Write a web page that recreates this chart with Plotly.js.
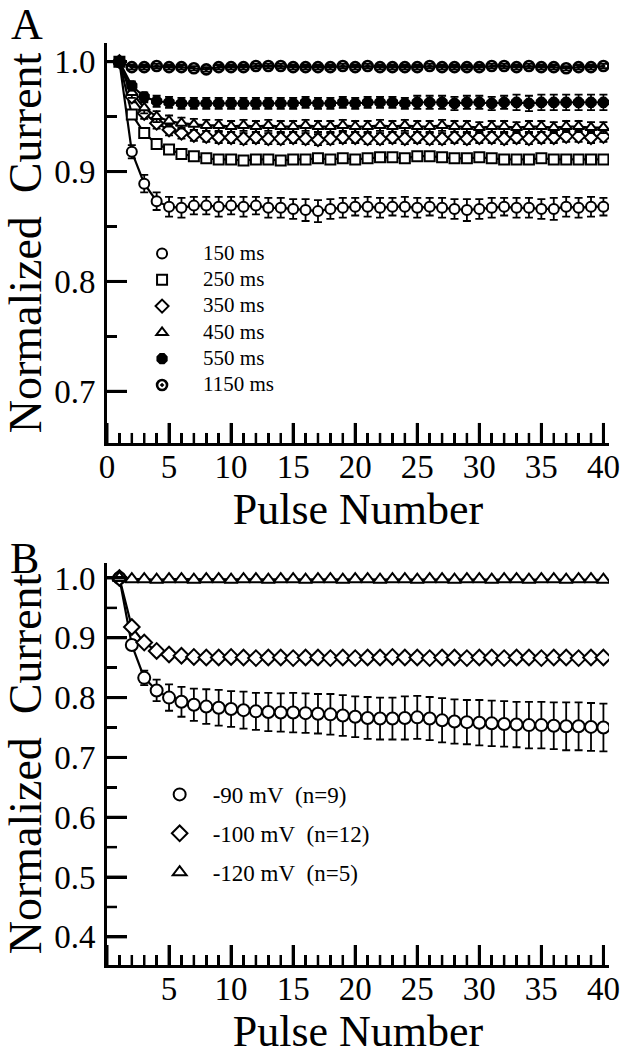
<!DOCTYPE html>
<html>
<head>
<meta charset="utf-8">
<script src="https://cdn.plot.ly/plotly-3.0.1.min.js"></script>
<style>html,body{margin:0;padding:0;background:#fff;}</style>
</head>
<body>
<div id="chart" style="width:620px;height:1058px;"></div>
<script>
// ---------- Data ----------
const pulses = Array.from({length: 40}, (_, i) => i + 1);

// Panel A: interval series
const a150 = [1.000,0.918,0.889,0.873,0.868,0.867,0.869,0.869,0.868,0.869,0.868,0.869,0.867,0.867,0.866,0.865,0.864,0.866,0.867,0.868,0.868,0.867,0.868,0.868,0.867,0.868,0.867,0.866,0.865,0.866,0.867,0.868,0.867,0.867,0.866,0.866,0.868,0.867,0.868,0.868];
const a150Err = [0.002,0.006,0.008,0.008,0.009,0.009,0.008,0.008,0.009,0.008,0.009,0.008,0.009,0.009,0.009,0.010,0.010,0.009,0.009,0.008,0.009,0.009,0.008,0.009,0.009,0.008,0.009,0.009,0.010,0.009,0.009,0.008,0.009,0.009,0.009,0.010,0.009,0.009,0.009,0.008];
const a250 = [1.000,0.952,0.935,0.925,0.920,0.916,0.914,0.912,0.911,0.911,0.910,0.911,0.911,0.910,0.911,0.911,0.912,0.911,0.912,0.911,0.912,0.913,0.913,0.912,0.914,0.914,0.913,0.912,0.912,0.913,0.912,0.911,0.911,0.911,0.912,0.911,0.911,0.911,0.911,0.911];
const a250Err = [0.002,0.004,0.004,0.004,0.004,0.004,0.004,0.004,0.004,0.004,0.004,0.004,0.004,0.004,0.004,0.004,0.004,0.004,0.004,0.004,0.004,0.004,0.004,0.004,0.004,0.004,0.004,0.004,0.004,0.004,0.004,0.004,0.004,0.004,0.004,0.004,0.004,0.004,0.004,0.004];
const a350 = [1.000,0.968,0.953,0.944,0.938,0.935,0.933,0.932,0.931,0.931,0.930,0.931,0.930,0.930,0.931,0.930,0.929,0.930,0.931,0.931,0.930,0.930,0.931,0.930,0.931,0.930,0.930,0.931,0.930,0.931,0.931,0.930,0.931,0.930,0.931,0.931,0.932,0.932,0.931,0.932];
const a350Err = [0.002,0.005,0.005,0.005,0.005,0.005,0.005,0.005,0.005,0.005,0.005,0.005,0.005,0.005,0.005,0.005,0.005,0.005,0.005,0.005,0.005,0.005,0.005,0.005,0.005,0.005,0.005,0.005,0.005,0.005,0.005,0.005,0.005,0.005,0.005,0.005,0.005,0.005,0.005,0.005];
const a450 = [1.000,0.972,0.958,0.950,0.946,0.944,0.943,0.942,0.942,0.941,0.942,0.941,0.942,0.941,0.941,0.942,0.941,0.941,0.942,0.941,0.941,0.942,0.941,0.942,0.941,0.941,0.942,0.941,0.941,0.940,0.941,0.941,0.940,0.941,0.941,0.940,0.941,0.941,0.940,0.940];
const a450Err = [0.002,0.005,0.005,0.005,0.005,0.005,0.005,0.005,0.005,0.005,0.005,0.005,0.005,0.005,0.005,0.005,0.005,0.005,0.005,0.005,0.005,0.005,0.005,0.005,0.005,0.005,0.005,0.005,0.005,0.005,0.005,0.005,0.005,0.005,0.005,0.005,0.005,0.005,0.005,0.005];
const a550 = [1.000,0.978,0.968,0.964,0.963,0.962,0.962,0.962,0.962,0.962,0.962,0.962,0.962,0.962,0.962,0.963,0.962,0.962,0.963,0.962,0.963,0.963,0.963,0.962,0.963,0.963,0.963,0.962,0.963,0.963,0.962,0.963,0.963,0.962,0.963,0.963,0.963,0.963,0.963,0.963];
const a550Err = [0.002,0.004,0.004,0.005,0.005,0.005,0.005,0.005,0.005,0.005,0.005,0.005,0.005,0.005,0.005,0.005,0.005,0.005,0.005,0.005,0.005,0.005,0.005,0.005,0.006,0.006,0.006,0.006,0.006,0.006,0.006,0.006,0.007,0.007,0.007,0.007,0.007,0.007,0.007,0.007];
const a1150 = [1.000,0.995,0.995,0.996,0.995,0.995,0.994,0.993,0.995,0.995,0.995,0.996,0.996,0.996,0.995,0.995,0.995,0.995,0.996,0.995,0.996,0.995,0.995,0.995,0.995,0.996,0.995,0.995,0.995,0.995,0.996,0.996,0.995,0.996,0.995,0.995,0.994,0.995,0.995,0.996];
const a1150Err = [0.002,0.002,0.002,0.002,0.002,0.002,0.002,0.002,0.002,0.002,0.002,0.002,0.002,0.002,0.002,0.002,0.002,0.002,0.002,0.002,0.002,0.002,0.002,0.002,0.002,0.002,0.002,0.002,0.002,0.002,0.002,0.002,0.002,0.002,0.002,0.002,0.002,0.002,0.002,0.002];

const aNames = ['150 ms','250 ms','350 ms','450 ms','550 ms','1150 ms'];

// Panel B: holding potential series
const b90 = [1.000,0.888,0.833,0.812,0.800,0.793,0.788,0.785,0.783,0.781,0.779,0.777,0.776,0.775,0.775,0.774,0.773,0.772,0.770,0.768,0.766,0.765,0.765,0.766,0.767,0.765,0.762,0.760,0.759,0.758,0.757,0.756,0.755,0.754,0.754,0.753,0.752,0.752,0.751,0.750];
const b90Err = [0.003,0.008,0.012,0.018,0.022,0.025,0.027,0.029,0.030,0.030,0.031,0.031,0.032,0.032,0.033,0.033,0.033,0.034,0.034,0.034,0.035,0.035,0.035,0.036,0.036,0.036,0.037,0.037,0.037,0.038,0.038,0.038,0.038,0.039,0.039,0.039,0.040,0.040,0.040,0.040];
const b100 = [1.000,0.918,0.892,0.878,0.872,0.870,0.868,0.867,0.867,0.868,0.867,0.866,0.867,0.867,0.866,0.867,0.867,0.866,0.867,0.866,0.867,0.867,0.868,0.867,0.867,0.866,0.867,0.867,0.866,0.867,0.867,0.866,0.867,0.867,0.866,0.867,0.867,0.866,0.867,0.867];
const b100Err = [0.002,0.006,0.006,0.006,0.006,0.006,0.006,0.006,0.006,0.006,0.006,0.006,0.006,0.006,0.006,0.006,0.006,0.006,0.006,0.006,0.006,0.006,0.006,0.006,0.006,0.006,0.006,0.006,0.006,0.006,0.006,0.006,0.006,0.006,0.006,0.006,0.006,0.006,0.006,0.006];
const b120 = [1.000,0.998,0.998,0.997,0.998,0.998,0.997,0.998,0.998,0.997,0.998,0.998,0.997,0.998,0.998,0.997,0.998,0.998,0.997,0.998,0.998,0.997,0.998,0.998,0.997,0.998,0.998,0.997,0.998,0.998,0.997,0.998,0.998,0.997,0.998,0.998,0.997,0.998,0.998,0.997];
const b120Err = [0.002,0.002,0.002,0.002,0.002,0.002,0.002,0.002,0.002,0.002,0.002,0.002,0.002,0.002,0.002,0.002,0.002,0.002,0.002,0.002,0.002,0.002,0.002,0.002,0.002,0.002,0.002,0.002,0.002,0.002,0.002,0.002,0.002,0.002,0.002,0.002,0.002,0.002,0.002,0.002];

const bNames = ['-90 mV\u00a0\u00a0(n=9)','-100 mV\u00a0\u00a0(n=12)','-120 mV\u00a0\u00a0(n=5)'];

// Axis ranges, tick positions and labels
const xRange = [0, 40.45];
const yRangeA = [0.653, 1.017];
const yRangeB = [0.353, 1.025];
const xTicksA = [0, 5, 10, 15, 20, 25, 30, 35, 40];
const xTicksB = [5, 10, 15, 20, 25, 30, 35, 40];
const xMajorTicks = [0, 5, 10, 15, 20, 25, 30, 35, 40];
const xMinorTicks = [1,2,3,4,6,7,8,9,11,12,13,14,16,17,18,19,21,22,23,24,26,27,28,29,31,32,33,34,36,37,38,39];
const yTicksA = [0.7, 0.8, 0.9, 1.0];
const yMinorA = [0.75, 0.85, 0.95];
const yTicksB = [0.4, 0.5, 0.6, 0.7, 0.8, 0.9, 1.0];
const yMinorB = [0.45, 0.55, 0.65, 0.75, 0.85, 0.95];

// ---------- Styling ----------
const FONT = '"Liberation Serif", "Times New Roman", Times, serif';
const INK = '#000';

const seriesA = [
  {y: a150, e: a150Err, sym: 'circle', fill: '#fff'},
  {y: a250, e: a250Err, sym: 'square', fill: '#fff'},
  {y: a350, e: a350Err, sym: 'diamond', fill: '#fff'},
  {y: a450, e: a450Err, sym: 'triangle-up', fill: '#fff'},
  {y: a550, e: a550Err, sym: 'octagon', fill: INK},
  {y: a1150, e: a1150Err, sym: 'circle-open-dot', fill: INK}
];
const seriesB = [
  {y: b90, e: b90Err, sym: 'circle', fill: '#fff'},
  {y: b100, e: b100Err, sym: 'diamond', fill: '#fff'},
  {y: b120, e: b120Err, sym: 'triangle-up', fill: '#fff'}
];

const traces = [];
function addPanel(series, names, xa, ya, legendId, msize, labelPx) {
  series.forEach((s) => {
    traces.push({
      x: pulses, y: s.y, xaxis: xa, yaxis: ya, mode: 'lines',
      line: {color: INK, width: 2.2}, showlegend: false, hoverinfo: 'skip'
    });
  });
  series.forEach((s, i) => {
    const open = s.sym.indexOf('open') >= 0;
    traces.push({
      x: pulses, y: s.y, xaxis: xa, yaxis: ya, mode: 'markers',
      name: '<span style="font-size:' + labelPx + 'px">' + names[i] + '</span>',
      legend: legendId, legendgroup: legendId + i,
      marker: {
        symbol: s.sym, size: msize,
        color: open ? INK : s.fill,
        line: {color: INK, width: open ? 2.6 : 2}
      },
      error_y: {type: 'data', array: s.e, visible: true, color: INK, thickness: 1.8, width: 4}
    });
  });
}
addPanel(seriesA, aNames, 'x', 'y', 'legend', 10, 21);
addPanel(seriesB, bNames, 'x2', 'y2', 'legend2', 12, 23);

const TICKFONT = {family: FONT, size: 33, color: INK};
const TITLEFONT = {family: FONT, size: 44, color: INK};

function xAxis(ticks, anchor) {
  return {
    anchor: anchor, range: xRange, tickmode: 'array', tickvals: ticks, ticktext: ticks.map(String),
    ticks: 'inside', ticklen: 20, tickwidth: 3, tickcolor: INK,
    minor: {tickmode: 'linear', tick0: 0, dtick: 1, ticks: 'inside', ticklen: 10, tickwidth: 2.5, tickcolor: INK, showgrid: false},
    showline: true, linewidth: 3, linecolor: INK, showgrid: false, zeroline: false,
    tickfont: TICKFONT, ticklabelstandoff: -8,
    title: {text: 'Pulse Number', font: TITLEFONT, standoff: 4},
    fixedrange: true
  };
}
function yAxis(range, domain, anchor) {
  return {
    anchor: anchor, domain: domain, range: range, tickmode: 'linear', tick0: 0, dtick: 0.1, tickformat: '.1f',
    ticks: 'inside', ticklen: 20, tickwidth: 3, tickcolor: INK,
    minor: {tickmode: 'linear', tick0: 0, dtick: 0.05, ticks: 'inside', ticklen: 10, tickwidth: 2.5, tickcolor: INK, showgrid: false},
    showline: true, linewidth: 3, linecolor: INK, showgrid: false, zeroline: false,
    tickfont: TICKFONT, ticklabelstandoff: 2,
    title: {text: 'Normalized\u00a0\u00a0Current', font: {family: FONT, size: 46, color: INK}, standoff: 6},
    fixedrange: true
  };
}

// Tick marks pointing into the plot, placed through the axes' own scales
const shapes = [];
function xTickMarks(xref, yref, yBottom, vals, len, w) {
  vals.forEach(v => shapes.push({type: 'line', xref: xref, yref: yref, x0: v, x1: v,
    ysizemode: 'pixel', yanchor: yBottom, y0: 0, y1: len,
    line: {color: INK, width: w}, layer: 'above'}));
}
function yTickMarks(xref, yref, xLeft, vals, len, w) {
  vals.forEach(v => shapes.push({type: 'line', xref: xref, yref: yref, y0: v, y1: v,
    xsizemode: 'pixel', xanchor: xLeft, x0: 0, x1: len,
    line: {color: INK, width: w}, layer: 'above'}));
}
xTickMarks('x', 'y', yRangeA[0], xMajorTicks, 20, 3);
xTickMarks('x', 'y', yRangeA[0], xMinorTicks, 10, 2.5);
yTickMarks('x', 'y', xRange[0], yTicksA, 20, 3);
yTickMarks('x', 'y', xRange[0], yMinorA, 10, 2.5);
xTickMarks('x2', 'y2', yRangeB[0], xMajorTicks, 20, 3);
xTickMarks('x2', 'y2', yRangeB[0], xMinorTicks, 10, 2.5);
yTickMarks('x2', 'y2', xRange[0], yTicksB, 20, 3);
yTickMarks('x2', 'y2', xRange[0], yMinorB, 10, 2.5);

const layout = {
  width: 620, height: 1058,
  margin: {l: 107, r: 11, t: 43, b: 93},
  paper_bgcolor: '#fff', plot_bgcolor: '#fff',
  font: {family: FONT, color: INK},
  xaxis: xAxis(xTicksA, 'y'),
  yaxis: yAxis(yRangeA, [0.5662, 1], 'x'),
  xaxis2: xAxis(xTicksB, 'y2'),
  yaxis2: yAxis(yRangeB, [0, 0.436], 'x2'),
  legend: {
    x: 0.028, y: 0.79, xanchor: 'left', yanchor: 'top', bgcolor: 'rgba(0,0,0,0)',
    font: {family: FONT, size: 16, color: INK}, tracegroupgap: 2.5, borderwidth: 0, itemwidth: 72
  },
  legend2: {
    x: 0.079, y: 0.2083, xanchor: 'left', yanchor: 'top', bgcolor: 'rgba(0,0,0,0)',
    font: {family: FONT, size: 23, color: INK}, tracegroupgap: 6, borderwidth: 0, itemwidth: 56
  },
  shapes: shapes,
  annotations: [
    {text: 'A', xref: 'paper', yref: 'paper', x: -0.16, y: 1.020, xanchor: 'center', yanchor: 'middle', showarrow: false, font: {family: FONT, size: 44, color: INK}},
    {text: 'B', xref: 'paper', yref: 'paper', x: -0.164, y: 0.441, xanchor: 'center', yanchor: 'middle', showarrow: false, font: {family: FONT, size: 44, color: INK}}
  ],
  showlegend: true
};

Plotly.newPlot('chart', traces, layout, {displayModeBar: false, staticPlot: true});
</script>
</body>
</html>
